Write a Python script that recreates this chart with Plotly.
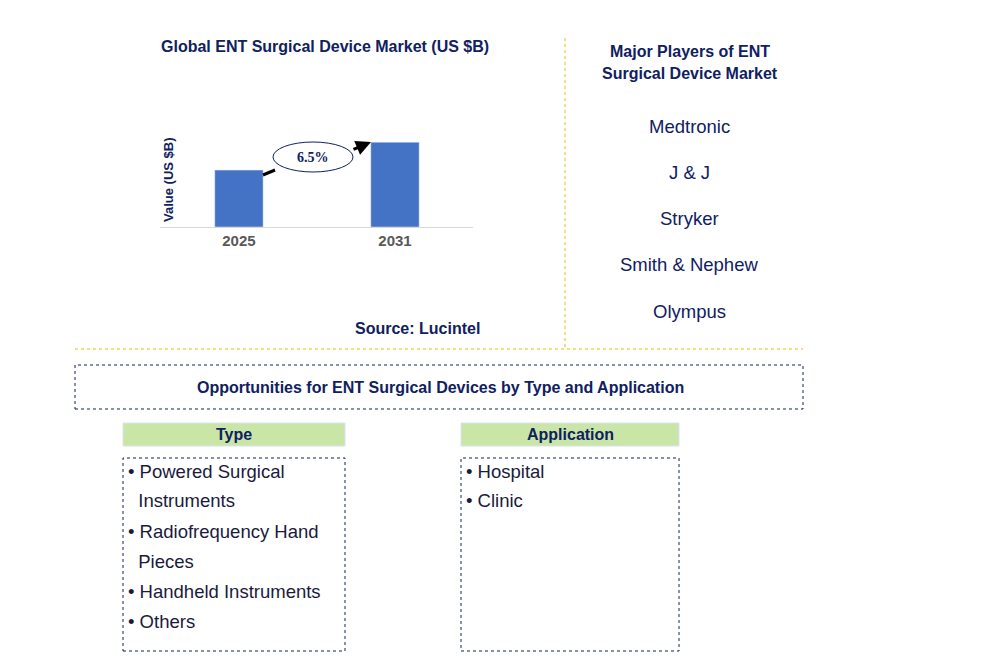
import plotly.graph_objects as go

W, H = 996, 672
years = ["2025", "2031"]
values = [1.0, 1.49]
cagr = "6.5%"
players = ["Medtronic", "J & J", "Stryker", "Smith & Nephew", "Olympus"]
types = ["Powered Surgical<br>  Instruments", "Radiofrequency Hand<br>  Pieces", "Handheld Instruments", "Others"]
applications = ["Hospital", "Clinic"]

NAVY = "#0f2160"
OFF = 8  # page body margin

def px(x):
    return (x - OFF) / W

def py(y):
    return 1 - (y - OFF) / H

fig = go.Figure()
fig.add_trace(go.Bar(x=years, y=values, marker_color="#4472c4", width=0.31))

shapes = []
ann = []

def txt(x, y, s, size=14, bold=False, color=NAVY, xanchor="center", font="Arial"):
    ann.append(dict(x=px(x), y=py(y), xref="paper", yref="paper", text=f"<b>{s}</b>" if bold else s,
                    showarrow=False, xanchor=xanchor, yanchor="middle",
                    font=dict(size=size, color=color, family=font)))

def rect(x0, y0, x1, y1, line=None, fill=None, dash="dot", width=1):
    shapes.append(dict(type="rect", xref="paper", yref="paper", x0=px(x0), x1=px(x1), y0=py(y1), y1=py(y0),
                       line=dict(color=line or "rgba(0,0,0,0)", width=width, dash=dash),
                       fillcolor=fill or "rgba(0,0,0,0)", layer="below"))

def line(x0, y0, x1, y1, color, dash="dot", width=1):
    shapes.append(dict(type="line", xref="paper", yref="paper", x0=px(x0), x1=px(x1), y0=py(y0), y1=py(y1),
                       line=dict(color=color, width=width, dash=dash)))

# chart title and labels
txt(325, 46, "Global ENT Surgical Device Market (US $B)", 16, True)
ann.append(dict(x=px(168), y=py(180), xref="paper", yref="paper", text="<b>Value (US $B)</b>", textangle=-90,
                xanchor="center", yanchor="middle",
                showarrow=False, font=dict(size=13, color=NAVY, family="Arial")))
txt(417, 328, "Source: Lucintel", 16, True)

# CAGR arrow and ellipse
line(263, 175, 275, 170, "black", "solid", 3)
ann.append(dict(x=px(371), y=py(142), ax=-19, ay=8, xref="paper", yref="paper",
                showarrow=True, arrowhead=2, arrowsize=1, arrowwidth=3, arrowcolor="black", text=""))
shapes.append(dict(type="circle", xref="paper", yref="paper", x0=px(273), x1=px(353), y0=py(172), y1=py(142),
                   line=dict(color=NAVY, width=1), fillcolor="white"))
txt(313, 157, "<b>" + cagr + "</b>", 14, False, NAVY, font="Times New Roman")

# separators
line(565, 38, 565, 348, "#f5b800")
line(75, 349, 803, 349, "#f5b800")

# players
txt(690, 52, "Major Players of ENT", 16, True)
txt(690, 73, "Surgical Device Market", 16, True)
for i, p in enumerate(players):
    txt(689, 126 + i * 46.3, p, 18.5, False, NAVY)

# opportunities
rect(75, 365, 803, 409, NAVY)
txt(440, 387, "Opportunities for ENT Surgical Devices by Type and Application", 16, True)
rect(123, 423, 345, 446, "#dae3f3", "#c9e6a6", "solid")
txt(234, 434, "Type", 16, True)
rect(461, 423, 679, 446, "#dae3f3", "#c9e6a6", "solid")
txt(570, 434, "Application", 16, True)
rect(123, 458, 345, 651, NAVY)
rect(461, 458, 679, 651, NAVY)

row = 0
for t in types:
    lines = t.split("<br>")
    for j, l in enumerate(lines):
        s = ("• " + l) if j == 0 else ("&nbsp;&nbsp;" + l.strip())
        txt(126, 471 + row * 30, s, 18.5, False, "#1a1a3e", "left")
        row += 1
for i, a in enumerate(applications):
    txt(464, 471 + i * 30, "• " + a, 18.5, False, "#1a1a3e", "left")

fig.update_layout(
    width=W, height=H, margin=dict(l=0, r=0, t=0, b=0),
    plot_bgcolor="white", paper_bgcolor="white", showlegend=False,
    xaxis=dict(domain=[px(160), px(473)], range=[-0.506, 1.5], showline=True, linecolor="#d9d9d9",
               tickvals=years, ticktext=[f"<b>{y}</b>" for y in years],
               tickfont=dict(size=15, color="#595959", family="Arial"), ticks="", showgrid=False),
    yaxis=dict(domain=[py(227), py(120)], range=[0, 1.88], visible=False),
    shapes=shapes, annotations=ann,
)
fig.write_html("out.html")
